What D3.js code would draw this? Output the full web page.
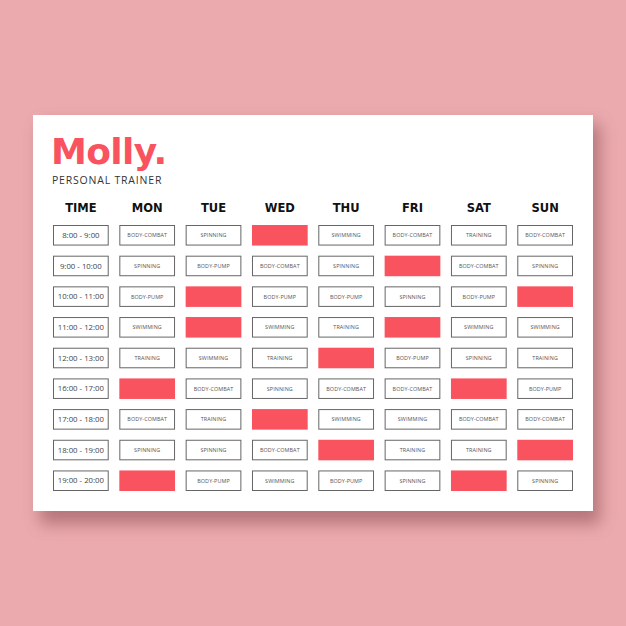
<!DOCTYPE html>
<html>
<head>
<meta charset="utf-8">
<script src="https://cdn.jsdelivr.net/npm/d3@7"></script>
<style>
  body { margin: 0; background: #ebaaad; }
  svg { display: block; }
</style>
</head>
<body>
<div id="chart"></div>
<script>
/* DATA */
const days = ['MON', 'TUE', 'WED', 'THU', 'FRI', 'SAT', 'SUN'];
const times = ['8:00 - 9:00', '9:00 - 10:00', '10:00 - 11:00', '11:00 - 12:00', '12:00 - 13:00',
  '16:00 - 17:00', '17:00 - 18:00', '18:00 - 19:00', '19:00 - 20:00'];
// null = rest slot (filled red)
const mon = ['BODY-COMBAT', 'SPINNING', 'BODY-PUMP', 'SWIMMING', 'TRAINING', null, 'BODY-COMBAT', 'SPINNING', null];
const tue = ['SPINNING', 'BODY-PUMP', null, null, 'SWIMMING', 'BODY-COMBAT', 'TRAINING', 'SPINNING', 'BODY-PUMP'];
const wed = [null, 'BODY-COMBAT', 'BODY-PUMP', 'SWIMMING', 'TRAINING', 'SPINNING', null, 'BODY-COMBAT', 'SWIMMING'];
const thu = ['SWIMMING', 'SPINNING', 'BODY-PUMP', 'TRAINING', null, 'BODY-COMBAT', 'SWIMMING', null, 'BODY-PUMP'];
const fri = ['BODY-COMBAT', null, 'SPINNING', null, 'BODY-PUMP', 'BODY-COMBAT', 'SWIMMING', 'TRAINING', 'SPINNING'];
const sat = ['TRAINING', 'BODY-COMBAT', 'BODY-PUMP', 'SWIMMING', 'SPINNING', null, 'BODY-COMBAT', 'TRAINING', null];
const sun = ['BODY-COMBAT', 'SPINNING', null, 'SWIMMING', 'TRAINING', 'BODY-PUMP', 'BODY-COMBAT', null, 'SPINNING'];
const schedule = [mon, tue, wed, thu, fri, sat, sun];

const W = 626, H = 626;
const red = '#f9535f';

const svg = d3.select('#chart')
  .append('svg')
  .attr('width', W)
  .attr('height', H);

// card shadow
const defs = svg.append('defs');
const f = defs.append('filter').attr('id', 'shadow')
  .attr('x', '-20%').attr('y', '-20%').attr('width', '140%').attr('height', '140%');
f.append('feGaussianBlur').attr('stdDeviation', 8);

svg.append('rect')
  .attr('x', 40).attr('y', 124).attr('width', 560).attr('height', 400)
  .attr('fill', '#9e5f66').attr('opacity', 0.7)
  .attr('filter', 'url(#shadow)');

svg.append('rect')
  .attr('x', 33).attr('y', 115).attr('width', 560).attr('height', 396)
  .attr('fill', '#fff');

// title
svg.append('text')
  .attr('x', 51).attr('y', 164)
  .attr('font-family', 'DejaVu Sans')
  .attr('font-weight', 'bold')
  .attr('font-size', 36)
  .attr('letter-spacing', -0.6)
  .attr('fill', red)
  .text('Molly.');

svg.append('text')
  .attr('x', 52).attr('y', 184)
  .attr('font-family', 'Open Sans')
  .attr('font-size', 10.5)
  .attr('letter-spacing', 0.8)
  .attr('fill', '#333')
  .text('PERSONAL TRAINER');

/* SCALES */
const cols = ['TIME', ...days];
const x = d3.scaleBand()
  .domain(cols)
  .range([53, 573])
  .paddingInner(0.16)
  .paddingOuter(0);

const y = d3.scaleBand()
  .domain(times)
  .range([225, 491])
  .paddingInner(0.33)
  .paddingOuter(0);

// headers
svg.append('g')
  .selectAll('text')
  .data(cols)
  .join('text')
  .attr('x', d => x(d) + x.bandwidth() / 2)
  .attr('y', 212)
  .attr('text-anchor', 'middle')
  .attr('font-family', 'DejaVu Sans')
  .attr('font-weight', 'bold')
  .attr('font-size', 11.5)
  .attr('fill', '#111')
  .text(d => d);

// time column
const timeG = svg.append('g')
  .selectAll('g')
  .data(times)
  .join('g')
  .attr('transform', d => `translate(${x('TIME')},${y(d)})`);

timeG.append('rect')
  .attr('x', 0.5).attr('y', 0.5)
  .attr('width', x.bandwidth() - 1)
  .attr('height', y.bandwidth() - 1)
  .attr('fill', '#fff')
  .attr('stroke', '#666')
  .attr('stroke-width', 1);

timeG.append('text')
  .attr('x', x.bandwidth() / 2)
  .attr('y', y.bandwidth() / 2)
  .attr('dy', '0.35em')
  .attr('text-anchor', 'middle')
  .attr('font-family', 'Open Sans')
  .attr('font-size', 7.8)
  .attr('fill', '#444')
  .text(d => d);

// activity cells
const cells = [];
days.forEach((day, i) => {
  schedule[i].forEach((act, j) => cells.push({ day, time: times[j], act }));
});

const cellG = svg.append('g')
  .selectAll('g')
  .data(cells)
  .join('g')
  .attr('transform', d => `translate(${x(d.day)},${y(d.time)})`);

cellG.append('rect')
  .attr('x', d => d.act ? 0.5 : 0)
  .attr('y', d => d.act ? 0.5 : 0)
  .attr('width', d => d.act ? x.bandwidth() - 1 : x.bandwidth())
  .attr('height', d => d.act ? y.bandwidth() - 1 : y.bandwidth())
  .attr('fill', d => d.act ? '#fff' : red)
  .attr('stroke', d => d.act ? '#666' : 'none')
  .attr('stroke-width', 1);

cellG.filter(d => d.act)
  .append('text')
  .attr('x', x.bandwidth() / 2)
  .attr('y', y.bandwidth() / 2)
  .attr('dy', '0.35em')
  .attr('text-anchor', 'middle')
  .attr('font-family', 'Open Sans')
  .attr('font-size', 5.4)
  .attr('letter-spacing', 0.1)
  .attr('fill', '#555')
  .text(d => d.act);
</script>
</body>
</html>
